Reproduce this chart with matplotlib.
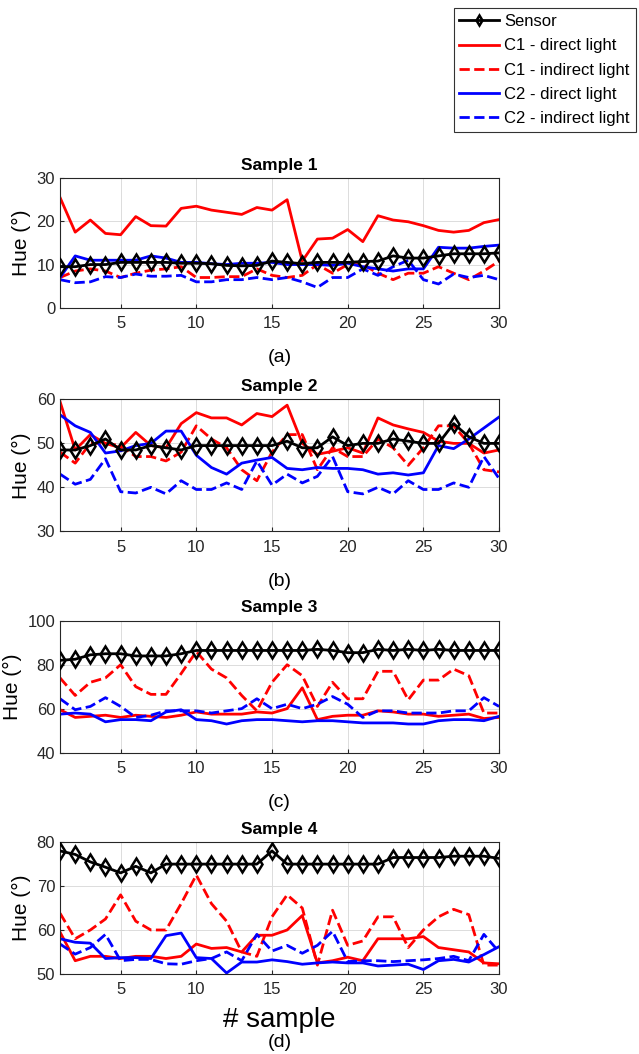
import numpy as np
import matplotlib
matplotlib.use("Agg")
import matplotlib.pyplot as plt

plt.rcParams['font.family'] = ['Liberation Sans', 'DejaVu Sans']

samples = np.arange(1, 31)

# Sample 1
s1_sensor = [9.5, 9.5, 10, 10, 10.5, 10.5, 10.5, 10.5, 10.3, 10.3, 10.2, 9.8, 9.7, 9.8, 10.8,
             10.5, 10.2, 10.5, 10.5, 10.5, 10.7, 10.8, 12, 11.5, 11.5, 12, 12.5, 12.5, 12.5, 12.7]
s1_c1_direct = [25.5, 17.5, 20.3, 17.2, 16.9, 21.1, 19, 18.9, 23, 23.5, 22.6, 22.1, 21.6, 23.2, 22.6,
                25, 10.8, 15.9, 16.1, 18.1, 15.3, 21.3, 20.3, 19.9, 19, 17.9, 17.5, 17.9, 19.7, 20.4]
s1_c1_indirect = [7, 8.5, 9, 8.5, 7, 8, 8.7, 9, 9.5, 7, 7, 7.2, 7.2, 9, 7.5,
                  7, 7.5, 10, 8, 10, 10, 8, 6.5, 8, 8, 9.5, 8, 6.5, 8.5, 10.8]
s1_c2_direct = [7, 12, 11, 11, 11, 11, 12, 11.5, 10.5, 10.5, 10.2, 10, 10.3, 10.3, 10.5,
                10, 10, 10, 9.8, 10.3, 9.5, 9, 8.5, 9, 9, 14, 13.8, 13.8, 14.2, 14.5]
s1_c2_indirect = [6.5, 5.8, 6, 7.2, 7, 7.8, 7.3, 7.3, 7.5, 6, 6, 6.5, 6.5, 7, 6.5,
                  7, 6, 4.7, 7, 7, 9, 7.5, 9.5, 11, 6.5, 5.5, 7.8, 7, 7.5, 6.5]

# Sample 2
s2_sensor = [48.5, 48.5, 49.5, 51, 48.5, 48.5, 49.5, 49, 48.5, 49.5, 49.5, 49.5, 49.5, 49.5, 49.5,
             50.5, 49, 49, 51.5, 49.5, 50, 50, 51, 50.5, 50, 50, 54.5, 51.5, 50, 50]
s2_c1_direct = [59.5, 48.5, 52, 50, 49, 52.5, 49.5, 49, 54.5, 57, 55.8, 55.8, 54.2, 56.8, 56.1,
                58.7, 50, 47.5, 48.2, 49, 47.8, 55.8, 54.2, 53.3, 52.5, 50.5, 50, 50, 47.8, 48.5]
s2_c1_indirect = [48, 45.5, 50, 50, 49.5, 47, 47, 46, 48, 54, 51, 49, 44, 41.5, 48,
                  52, 52, 44, 49, 47, 47, 51, 49, 45, 49, 54, 54, 50, 44, 43.5]
s2_c2_direct = [56.5, 54, 52.5, 47.8, 48.3, 49.5, 50, 52.8, 52.8, 47.3, 44.5, 43, 45.5, 46.2, 46.8,
                44.3, 44, 44.5, 44.3, 44.3, 44, 43, 43.3, 42.8, 43.3, 49.5, 48.8, 51, 53.5, 56]
s2_c2_indirect = [43, 40.7, 41.8, 46.5, 39, 38.7, 40, 38.5, 41.5, 39.5, 39.5, 41, 39.5, 46, 40.5,
                  43, 41, 42.5, 47, 39, 38.5, 40, 38.5, 41.5, 39.5, 39.5, 41, 40, 47, 42]

# Sample 3
s3_sensor = [82, 82.5, 84.5, 85, 85, 84, 84, 84, 85, 86.5, 86.5, 86.5, 86.5, 86.5, 86.5,
             86.5, 86.5, 87, 86.5, 85.5, 85.5, 87, 86.5, 87, 86.5, 87, 86.5, 86.5, 86.5, 86.5]
s3_c1_direct = [59.5, 56, 56.5, 57, 56, 57, 56.5, 56, 57, 58.5, 57.5, 57.5, 57.5, 58.5, 58,
                60, 69.5, 55, 56.5, 57, 57, 59, 58.5, 57.5, 57.5, 56.5, 57, 57.5, 55.5, 56]
s3_c1_indirect = [74, 66, 72, 74, 80, 70, 66.5, 66.5, 76, 86, 78, 74, 66, 59, 72,
                  80, 75, 61, 72, 64.5, 64.5, 77, 77, 64, 73, 73, 78, 75, 58, 58]
s3_c2_direct = [57.5, 58, 57.5, 54, 55, 55, 54.5, 58.5, 59.5, 55, 54.5, 53, 54.5, 55, 55,
                54.5, 54, 54.5, 54.5, 54, 53.5, 53.5, 53.5, 53, 53, 54.5, 55, 55, 54.5, 56.5]
s3_c2_indirect = [64.5, 59.5, 61, 65, 61, 56, 57, 59, 59, 59, 58, 59, 60, 64.5, 60,
                  62, 60, 62, 65.5, 62, 56, 59, 59, 58, 58, 58, 59, 59, 65, 61]

# Sample 4
s4_sensor = [78, 77.2, 75.5, 74.3, 73, 74.5, 73, 75, 75, 75, 75, 75, 75, 75, 78,
             75, 75, 75, 75, 75, 75, 75, 76.5, 76.5, 76.5, 76.5, 76.8, 76.8, 76.8, 76.3]
s4_c1_direct = [59.5, 53, 54, 54, 53.5, 54, 54, 53.5, 54, 56.8, 55.8, 56, 55, 58.8, 58.8,
                60, 63.3, 52.5, 53, 53.8, 53, 58, 58, 58, 58.5, 56, 55.5, 55, 52.5, 52.3]
s4_c1_indirect = [63.8, 58, 60, 62.5, 68, 62, 60, 60, 66, 72.5, 66, 62, 55, 54, 63,
                  68, 65, 52, 64.5, 56.5, 57.5, 63, 63, 56, 60, 63, 64.7, 63.5, 52, 52]
s4_c2_direct = [58, 57.2, 57, 53.5, 53.7, 53.7, 53.5, 58.7, 59.3, 53.7, 53.5, 50.2, 52.7, 52.7, 53.2,
                52.8, 52.2, 52.5, 52.7, 52.5, 52.5, 51.8, 52, 52.2, 51, 53, 53.3, 52.7, 54.4, 56.2]
s4_c2_indirect = [56.8, 54.5, 56, 59, 53, 53.3, 53.3, 52.3, 52.2, 53, 53.5, 55, 53, 59, 55.2,
                  56.5, 54.7, 56.5, 59.7, 52.8, 53, 53, 52.8, 53, 53.2, 53.5, 54, 53, 59, 55]

panels = [
    ("Sample 1", "(a)", [0, 30], [0, 10, 20, 30],
     [s1_sensor, s1_c1_direct, s1_c1_indirect, s1_c2_direct, s1_c2_indirect]),
    ("Sample 2", "(b)", [30, 60], [30, 40, 50, 60],
     [s2_sensor, s2_c1_direct, s2_c1_indirect, s2_c2_direct, s2_c2_indirect]),
    ("Sample 3", "(c)", [40, 100], [40, 60, 80, 100],
     [s3_sensor, s3_c1_direct, s3_c1_indirect, s3_c2_direct, s3_c2_indirect]),
    ("Sample 4", "(d)", [50, 80], [50, 60, 70, 80],
     [s4_sensor, s4_c1_direct, s4_c1_indirect, s4_c2_direct, s4_c2_indirect]),
]
labels = ["Sensor", "C1 - direct light", "C1 - indirect light",
          "C2 - direct light", "C2 - indirect light"]

fig = plt.figure(figsize=(6.39, 10.54), dpi=100)

# axes boxes in figure fractions (left, bottom, width, height)
boxes = [(0.094, 0.708, 0.687, 0.123),
         (0.094, 0.496, 0.687, 0.125),
         (0.094, 0.286, 0.687, 0.125),
         (0.094, 0.076, 0.687, 0.125)]

for i, (title, tag, ylim, yticks, series) in enumerate(panels):
    ax = fig.add_axes(boxes[i])
    sensor, c1d, c1i, c2d, c2i = series
    ax.plot(samples, c1d, color='red', lw=2, label=labels[1])
    ax.plot(samples, c1i, color='red', lw=2, ls='--', label=labels[2])
    ax.plot(samples, c2d, color='blue', lw=2, label=labels[3])
    ax.plot(samples, c2i, color='blue', lw=2, ls='--', label=labels[4])
    ax.plot(samples, sensor, color='black', lw=2, marker='d', markersize=8,
            markerfacecolor='none', markeredgewidth=1.8, label=labels[0], zorder=5)
    ax.set_xlim(1, 30)
    ax.set_ylim(ylim)
    ax.set_xticks([5, 10, 15, 20, 25, 30])
    ax.set_yticks(yticks)
    ax.grid(True, color='#dcdcdc', lw=0.7)
    ax.set_axisbelow(True)
    ax.tick_params(labelsize=12, colors='#262626', length=3, direction='in')
    ax.tick_params(axis='x', pad=6)
    for sp in ax.spines.values():
        sp.set_color('#262626')
    ax.set_ylabel("Hue (\u00b0)", fontsize=15, labelpad=4)
    ax.set_title(title, fontsize=12.5, fontweight='bold', pad=6)
    if i == 3:
        ax.set_xlabel("# sample", fontsize=20, labelpad=7)
        ax.text(0.5, -0.52, tag, transform=ax.transAxes, ha='center', va='center', fontsize=14)
    else:
        ax.text(0.5, -0.38, tag, transform=ax.transAxes, ha='center', va='center', fontsize=14)
    if i == 0:
        handles, labs = ax.get_legend_handles_labels()
        order = [4, 0, 1, 2, 3]
        leg_h = [handles[k] for k in order]
        leg_l = [labs[k] for k in order]

leg = fig.legend(leg_h, leg_l, loc='upper right', bbox_to_anchor=(0.995, 0.992),
                 fontsize=12, frameon=True, fancybox=False, handlelength=2.4,
                 handletextpad=0.3, borderpad=0.35, labelspacing=0.55, borderaxespad=0)
leg.get_frame().set_edgecolor('black')
leg.get_frame().set_linewidth(0.8)
for h in leg.legend_handles:
    if hasattr(h, 'set_markersize'):
        h.set_markersize(5)

fig.savefig("out.png", dpi=100)
